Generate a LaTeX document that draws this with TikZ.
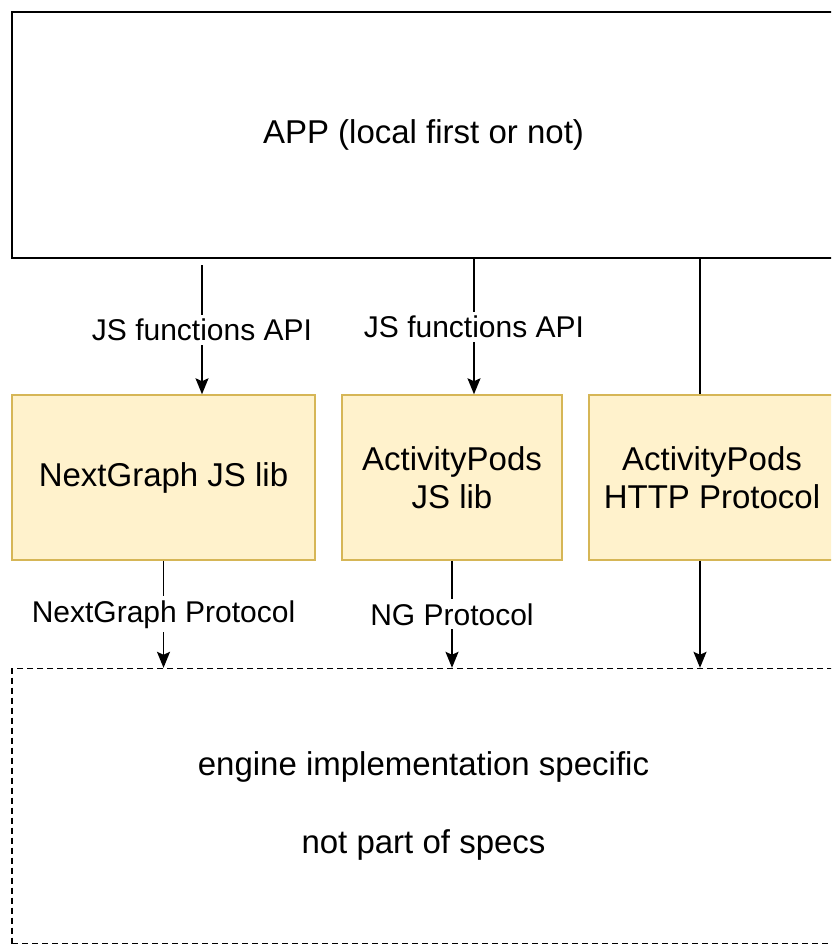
\documentclass[tikz,border=0pt]{standalone}
\usepackage{fontspec}
\setmainfont{Liberation Sans}
\usetikzlibrary{arrows.meta}
\definecolor{noteFill}{HTML}{FFF2CC}
\definecolor{noteLine}{HTML}{D6B656}

\begin{document}
\begin{tikzpicture}[x=1pt, y=-1pt,
        box/.style={draw, line width=2pt, minimum width=823pt, inner sep=0pt, font=\fontsize{33}{40}\selectfont},
        lib/.style={draw=noteLine, fill=noteFill, line width=1.5pt, minimum height=165pt, inner sep=0pt, align=center, font=\fontsize{33}{38}\selectfont},
        arr/.style={line width=1.8pt, -{Stealth[length=16pt,width=13pt,inset=3pt]}},
        lbl/.style={fill=white, inner sep=4pt, font=\fontsize{30}{36}\selectfont}]
        \useasboundingbox (0,0) rectangle (831,946);
        \clip (0,0) rectangle (831,946);

        % boxes
        \node[box, minimum height=246pt] (app) at (423.5,135) {APP (local first or not)};
        \node[lib, minimum width=303pt] (ngjs) at (163.5,477.5) {NextGraph JS lib};
        \node[lib, minimum width=220pt] (apjs) at (452,477.5) {ActivityPods\\JS lib};
        \node[lib, minimum width=246pt] (aphttp) at (712,477.5) {ActivityPods\\HTTP Protocol};
        \node[box, line width=1.4pt, dash pattern=on 6pt off 4pt, minimum height=275pt, align=center, font=\fontsize{33}{78}\selectfont] (engine) at (423.5,806) {engine implementation specific\\not part of specs};

        % connectors
        \coordinate (a1) at (202,265);
        \coordinate (bx) at (474,0);
        \coordinate (cx) at (700,0);
        \draw[arr] (a1) -- node[lbl] {JS functions API} (ngjs.north -| a1);
        \draw[arr] (app.south -| bx) -- node[lbl] {JS functions API} (apjs.north -| bx);
        \draw[line width=1.8pt] (app.south -| cx) -- (aphttp.north -| cx);
        \draw[arr] (ngjs.south) -- node[lbl] {NextGraph Protocol} (engine.north -| ngjs.south);
        \draw[arr] (apjs.south) -- node[lbl] {NG Protocol} (engine.north -| apjs.south);
        \draw[arr] (aphttp.south -| cx) -- (engine.north -| cx);
\end{tikzpicture}
\end{document}
